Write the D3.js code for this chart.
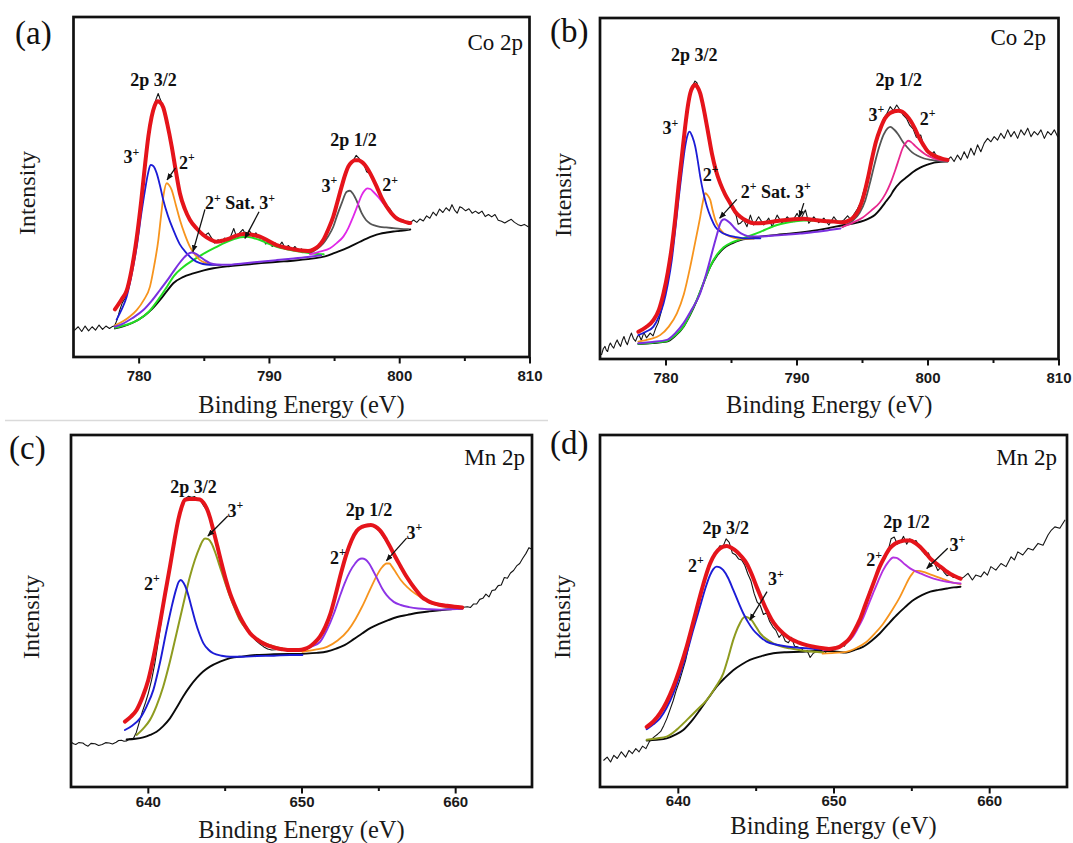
<!DOCTYPE html>
<html><head><meta charset="utf-8">
<script src="https://cdn.jsdelivr.net/npm/d3@7"></script>
<style>
html,body{margin:0;padding:0;background:#fff;}
svg{display:block;}
text{white-space:pre;}
</style></head>
<body>
<svg id="chart" width="1073" height="843"></svg>
<script>
// ---------------- tick values ----------------
const coTicks = [780, 790, 800, 810];
const coMinor = [785, 795, 805];
const mnTicks = [640, 650, 660];
const mnMinor = [645, 655];

// ---------------- panel (a) Co 2p ----------------
const rawA = [[775.09,7.9],[775.36,8.9],[775.63,7.5],[775.89,9.1],[776.16,7.7],[776.43,8.9],[776.69,7.9],[776.96,9.4],[777.23,8.1],[777.49,9.1],[777.76,8.4],[778.0,9.0],[778.16,9.2],
[778.35,11.0],[778.55,13.8],[778.75,16.0],[778.95,17.2],[779.15,19.5],[779.35,22.0],[779.55,26.5],[779.75,31.0],[779.95,37.5],[780.15,44.5],[780.35,51.5],[780.55,58.5],[780.75,64.5],[780.95,69.5],[781.15,73.5],[781.35,76.0],[781.5,77.5],[781.62,76.2],[781.8,74.5],[782.0,72.0],[782.2,68.5],[782.4,65.0],[782.6,61.0],[782.8,56.5],[783.0,51.5],[783.2,48.0],[783.4,45.5],[783.6,43.0],[783.85,41.0],[784.1,39.5],[784.35,38.0],[784.6,37.2],[784.85,36.3],[785.1,35.8],[785.35,36.5],[785.6,35.0],[785.85,33.5],[786.1,34.5],[786.35,33.8],[786.6,35.0],[786.85,34.2],[787.1,35.8],[787.3,37.8],[787.5,35.5],[787.75,36.5],[788.0,37.5],[788.25,35.8],[788.5,37.2],[788.75,35.5],[789.0,36.5],[789.25,35.0],[789.5,35.2],[789.75,33.2],[790.0,34.0],[790.25,32.5],[790.5,33.5],[790.75,32.5],[791.0,33.8],[791.25,32.0],[791.5,32.8],[791.75,31.5],[792.0,32.5],[792.25,31.2],[792.5,31.8],[792.75,30.8],[793.0,31.5],[793.25,31.0],[793.5,32.0],[793.75,32.5],[794.0,33.5],[794.25,35.0],[794.5,37.0],[794.75,39.5],[795.0,42.5],[795.25,45.8],[795.5,49.5],[795.75,52.5],[796.0,55.5],[796.25,57.0],[796.5,58.0],[796.7,59.3],[796.9,58.5],[797.1,57.2],[797.3,56.5],[797.5,54.5],[797.7,54.0],[797.9,52.8],[798.1,51.5],[798.3,49.8],[798.55,47.5],[798.8,45.8],[799.05,44.6],[799.3,43.5],[799.55,41.8],[799.8,41.2],[800.05,40.5],[800.3,40.3],[800.55,39.6],
[800.85,39.5],[801.1,40.3],[801.35,39.6],[801.6,40.6],[801.85,40.0],[802.1,41.5],[802.35,40.8],[802.6,42.6],[802.85,41.6],[803.1,43.5],[803.35,42.5],[803.6,43.9],[803.85,43.0],[804.05,44.8],[804.25,43.2],[804.45,42.3],[804.65,44.2],[804.85,43.8],[805.1,43.0],[805.35,43.6],[805.6,42.3],[805.85,42.9],[806.1,42.2],[806.35,42.9],[806.6,41.3],[806.85,41.9],[807.1,41.2],[807.35,41.9],[807.6,40.2],[807.85,39.9],[808.1,39.4],[808.35,40.0],[808.6,40.5],[808.85,39.6],[809.1,39.0],[809.35,38.6],[809.6,39.0],[809.9,38.3]];
const envA = [[778.18,14.0],[778.7,17.0],[779.08,19.5],[779.45,25.5],[779.85,35.0],[780.2,46.0],[780.49,56.5],[780.75,65.0],[781.0,70.7],[781.22,73.8],[781.43,75.2],[781.65,74.9],[781.89,73.4],[782.2,68.5],[782.54,61.9],[782.85,54.8],[783.17,48.1],[783.55,43.5],[783.94,40.3],[784.45,37.8],[784.96,35.9],[785.5,34.6],[785.99,33.9],[786.5,34.3],[787.01,34.9],[787.5,35.7],[788.03,36.2],[788.6,36.0],[789.31,35.4],[789.95,34.2],[790.59,32.9],[791.2,32.2],[791.87,31.7],[792.5,31.3],[793.0,31.2],[793.4,31.6],[793.8,32.6],[794.17,34.4],[794.55,37.5],[794.94,41.3],[795.25,45.5],[795.58,50.1],[795.85,53.6],[796.09,56.0],[796.35,57.3],[796.6,57.9],[796.86,57.9],[797.12,57.4],[797.38,56.4],[797.63,55.0],[797.95,52.7],[798.27,50.1],[798.65,46.8],[799.04,44.2],[799.4,42.3],[799.8,40.8],[800.25,40.0],[800.69,39.5],[800.85,39.4]];
const bgA = [[778.18,8.4],[778.8,9.0],[779.5,10.0],[780.36,11.9],[781.0,14.0],[781.64,16.8],[782.15,19.3],[782.66,21.7],[783.4,23.5],[784.19,24.6],[785.0,25.5],[785.73,26.1],[786.9,26.7],[788.03,27.1],[789.4,27.6],[790.7,28.0],[792.0,28.4],[793.0,28.8],[793.92,29.3],[794.5,29.8],[794.94,30.5],[795.45,31.2],[795.97,32.0],[796.5,33.0],[796.99,33.9],[797.5,34.8],[798.01,35.6],[798.5,36.2],[799.04,36.6],[799.55,36.9],[800.06,37.1],[800.69,37.4],[800.85,37.5]];
const co3A = [[778.31,11.0],[778.7,14.0],[779.08,17.7],[779.45,24.0],[779.85,32.4],[780.2,42.0],[780.49,49.1],[780.72,54.0],[780.92,56.5],[781.12,56.2],[781.39,54.0],[781.65,50.2],[781.89,46.2],[782.25,41.5],[782.66,37.4],[783.15,33.2],[783.69,30.5],[784.2,28.6],[784.71,27.6],[785.2,27.2],[785.73,27.1],[786.3,27.1]];
const co2A = [[778.2,9.3],[778.8,10.5],[779.35,12.0],[779.85,13.8],[780.4,16.8],[780.87,20.7],[781.2,27.0],[781.51,34.4],[781.72,41.5],[781.92,47.8],[782.15,51.1],[782.33,50.6],[782.54,49.1],[782.85,44.8],[783.17,40.3],[783.55,36.0],[783.94,32.4],[784.3,30.2],[784.71,28.5],[785.2,27.6],[785.73,27.1],[786.3,27.0]];
const sat2A = [[778.18,8.9],[778.8,9.8],[779.5,11.4],[780.36,13.8],[781.0,16.5],[781.64,19.7],[782.15,22.3],[782.66,25.1],[783.05,27.2],[783.43,29.0],[783.75,30.2],[784.07,30.7],[784.4,30.3],[784.71,29.5],[785.1,28.4],[785.48,27.6],[786.0,27.2],[786.76,27.1],[788.0,27.5],[789.31,28.0],[790.6,28.5],[791.9,29.0],[793.15,29.5],[794.0,29.9]];
const sat3A = [[778.18,8.6],[779.0,9.4],[780.0,11.0],[780.8,13.4],[781.64,17.6],[782.2,20.8],[782.7,23.8],[783.4,26.4],[784.19,28.5],[785.1,30.6],[785.99,32.4],[786.6,33.6],[787.27,34.6],[787.8,35.2],[788.29,35.4],[788.8,35.0],[789.31,34.4],[789.9,33.4],[790.59,32.4],[791.2,31.8],[791.87,31.3],[792.5,30.9],[793.15,30.5],[793.7,30.3],[794.2,30.2]];
const co3bA = [[793.15,30.6],[793.7,31.8],[794.17,33.4],[794.55,35.5],[794.94,38.3],[795.25,41.8],[795.58,45.2],[795.97,48.6],[796.22,48.9],[796.45,48.0],[796.75,45.8],[797.12,42.3],[797.45,40.3],[797.76,39.3],[798.1,38.7],[798.52,38.3],[799.0,38.1],[799.54,37.9],[800.1,37.7],[800.69,37.6]];
const co2bA = [[793.15,30.2],[793.9,31.0],[794.69,32.0],[795.2,33.5],[795.71,35.4],[796.1,38.0],[796.47,41.3],[796.8,44.5],[797.12,47.6],[797.35,49.0],[797.55,49.6],[797.78,49.4],[798.01,48.6],[798.4,47.0],[798.78,45.2],[799.15,43.5],[799.54,41.8],[799.9,40.6],[800.31,39.8],[800.69,39.3]];

// ---------------- panel (b) Co 2p ----------------
const rawB = [[775.12,1.3],[775.25,3.0],[775.38,3.7],[775.48,2.6],[775.58,2.2],[775.69,3.9],[775.79,4.7],[775.92,3.8],[776.05,3.2],[776.18,4.6],[776.31,5.6],[776.44,4.5],[776.57,3.7],[776.7,5.4],[776.83,6.6],[776.96,5.1],[777.09,4.2],[777.25,6.2],[777.40,7.6],[777.55,6.0],[777.71,5.2],[777.85,6.5],[777.97,7.1],
[778.15,5.5],[778.35,7.8],[778.55,6.2],[778.83,7.6],[779.05,6.8],[779.25,9.0],[779.44,10.6],[779.65,13.5],[779.85,17.0],[780.05,20.5],[780.25,25.0],[780.45,30.0],[780.65,36.5],[780.85,44.0],[781.05,52.0],[781.25,59.5],[781.45,66.0],[781.65,72.5],[781.85,77.0],[782.05,80.0],[782.25,81.5],[782.4,81.0],[782.6,78.5],[782.8,75.5],[783.0,71.5],[783.2,67.5],[783.4,63.5],[783.6,59.5],[783.8,56.0],[784.0,53.5],[784.2,51.0],[784.4,49.5],[784.6,47.5],[784.8,46.5],[785.0,44.5],[785.2,43.5],[785.4,42.0],[785.55,39.5],[785.71,39.8],[785.96,40.8],[786.22,38.8],[786.48,42.2],[786.73,39.3],[787.11,41.7],[787.5,39.3],[787.88,41.3],[788.14,38.8],[788.52,42.2],[788.9,39.8],[789.29,41.7],[789.67,40.3],[790.05,42.7],[790.3,40.8],[790.68,43.7],[790.94,39.8],[791.32,41.7],[791.7,40.0],[792.09,41.3],[792.47,39.3],[792.85,41.7],[793.23,39.8],[793.62,40.8],[793.9,42.0],[794.15,40.8],[794.4,42.5],[794.65,44.0],[794.9,46.0],[795.15,49.5],[795.4,52.5],[795.65,57.5],[795.9,60.5],[796.15,65.0],[796.4,68.0],[796.65,70.5],[796.9,72.0],[797.15,74.0],[797.4,72.8],[797.65,74.5],[797.9,73.0],[798.15,71.5],[798.4,70.5],[798.65,68.5],[798.9,67.5],[799.15,65.0],[799.48,65.7],[799.75,62.0],[800.0,61.5],[800.25,59.8],[800.5,60.8],[800.75,59.0],[801.0,58.8],[801.25,58.0],
[801.53,58.4],[801.78,59.3],[802.03,57.9],[802.29,59.8],[802.54,58.4],[802.80,60.8],[803.05,58.9],[803.31,61.8],[803.56,59.8],[803.82,62.8],[804.07,60.8],[804.33,63.3],[804.59,64.7],[804.84,63.7],[805.09,65.2],[805.35,64.2],[805.60,66.2],[805.86,64.7],[806.12,67.2],[806.37,65.2],[806.62,66.7],[806.88,64.7],[807.13,67.2],[807.39,65.7],[807.65,67.7],[807.90,65.2],[808.15,66.7],[808.41,65.7],[808.66,67.2],[808.92,64.7],[809.18,66.7],[809.43,65.7],[809.68,67.2],[809.94,65.2]];
const envB = [[777.93,8.0],[778.5,9.3],[779.08,11.4],[779.5,14.5],[779.85,19.3],[780.18,25.5],[780.48,32.9],[780.75,41.5],[780.99,50.5],[781.25,59.5],[781.5,68.1],[781.7,74.0],[781.89,77.9],[782.08,79.8],[782.27,80.4],[782.46,79.6],[782.65,77.9],[782.84,74.8],[783.03,71.1],[783.28,65.8],[783.54,60.3],[783.85,55.3],[784.18,51.5],[784.55,48.3],[784.95,45.6],[785.32,43.2],[785.71,41.7],[786.2,40.5],[786.73,39.8],[787.5,39.9],[788.26,40.3],[789.0,40.7],[789.79,41.0],[790.55,41.1],[791.32,40.8],[792.1,40.5],[792.85,40.3],[793.3,40.1],[793.62,40.1],[794.0,40.6],[794.38,41.7],[794.78,44.0],[795.1,47.5],[795.45,53.0],[795.75,58.5],[796.05,63.5],[796.4,67.5],[796.75,70.5],[797.1,72.0],[797.44,72.6],[797.76,72.8],[798.08,72.5],[798.4,71.4],[798.72,69.8],[799.05,67.5],[799.35,65.0],[799.68,62.8],[799.99,61.0],[800.38,59.9],[800.76,59.2],[801.15,58.7],[801.53,58.4]];
const bgB = [[777.93,4.4],[779.0,4.7],[780.1,5.1],[780.75,6.8],[781.38,9.5],[781.9,13.1],[782.4,17.3],[782.9,22.2],[783.42,27.1],[783.93,30.3],[784.44,32.5],[785.08,33.9],[785.71,34.9],[786.5,35.4],[787.24,35.9],[788.5,36.4],[789.79,36.9],[791.05,37.5],[792.34,38.3],[793.62,39.3],[794.55,39.9],[795.58,41.3],[796.0,42.3],[796.36,43.8],[796.75,45.8],[797.14,47.7],[797.44,49.6],[797.92,51.8],[798.47,53.5],[798.95,55.0],[799.48,56.2],[800.0,57.0],[800.5,57.6],[801.0,57.8],[801.56,58.0]];
const co3B = [[777.93,7.0],[778.5,8.0],[779.08,9.5],[779.5,12.5],[779.85,16.3],[780.18,22.0],[780.48,29.0],[780.75,38.0],[780.99,46.6],[781.25,55.0],[781.5,62.3],[781.67,65.5],[781.83,66.7],[782.05,65.2],[782.27,62.3],[782.46,58.2],[782.65,53.5],[782.9,48.6],[783.16,44.7],[783.48,41.3],[783.8,38.8],[784.25,37.2],[784.69,36.4],[785.3,35.8],[785.97,35.4],[787.24,35.4]];
const co2B = [[777.93,5.1],[778.8,5.8],[779.59,7.0],[780.25,9.5],[780.87,13.4],[781.4,19.0],[781.89,27.1],[782.28,34.5],[782.65,41.7],[782.85,46.0],[783.03,48.6],[783.22,48.0],[783.42,46.6],[783.6,43.6],[783.8,40.8],[784.1,38.4],[784.44,36.9],[784.95,35.9],[785.46,35.4],[786.73,35.2]];
const sat2B = [[777.93,4.6],[779.0,5.0],[780.1,5.6],[780.75,7.6],[781.38,10.5],[782.0,14.5],[782.65,19.3],[783.15,25.5],[783.67,32.9],[783.95,36.8],[784.18,39.8],[784.35,40.8],[784.49,41.0],[784.7,40.6],[784.95,39.8],[785.25,38.5],[785.58,37.3],[786.0,36.4],[786.48,35.9],[787.7,36.0],[789.03,36.4],[790.3,36.8],[791.58,37.3],[792.5,37.8],[793.36,38.3]];
const sat3B = [[777.93,4.5],[779.0,4.8],[780.1,5.3],[780.75,7.0],[781.38,9.6],[781.9,13.3],[782.4,17.4],[782.9,22.3],[783.42,27.2],[783.93,30.6],[784.44,32.8],[785.08,34.2],[785.71,35.1],[786.5,36.2],[787.24,37.3],[787.9,38.4],[788.52,39.3],[789.15,39.9],[789.79,40.3],[790.55,40.6],[791.32,40.6],[792.1,40.5],[792.85,40.4],[793.62,40.1]];
const co3bB = [[793.51,38.7],[794.2,40.3],[794.81,42.8],[795.25,46.5],[795.6,51.5],[795.95,57.0],[796.3,62.0],[796.65,65.8],[796.95,67.6],[797.17,68.1],[797.45,67.3],[797.74,66.0],[798.1,63.8],[798.45,62.1],[798.83,60.6],[799.25,59.6],[799.74,58.8],[800.25,58.4],[800.78,58.1],[801.53,57.9]];
const co2bB = [[793.51,38.7],[794.3,40.0],[795.06,41.5],[795.7,43.5],[796.36,45.9],[796.8,48.5],[797.2,51.8],[797.55,55.5],[797.85,59.0],[798.1,61.8],[798.35,63.4],[798.52,64.0],[798.75,63.6],[799.05,62.5],[799.4,61.3],[799.85,60.0],[800.4,59.0],[800.9,58.4],[801.53,58.1]];

// ---------------- panel (c) Mn 2p ----------------
const rawC = [[635.02,12.7],[635.17,12.3],[635.31,12.1],[635.5,12.6],[635.77,12.5],[635.95,11.9],[636.11,11.6],[636.3,12.4],[636.57,12.3],[636.8,11.8],[637.03,12.1],[637.25,12.6],[637.49,12.5],[637.7,12.2],[637.94,12.7],[638.1,13.2],[638.29,13.3],[638.45,13.0],[638.63,13.1],[638.8,13.6],[638.97,13.5],
[639.06,13.8],[639.25,15.5],[639.45,18.5],[639.65,21.5],[639.85,24.0],[640.03,26.6],[640.25,30.5],[640.45,35.0],[640.65,40.5],[640.85,46.5],[641.05,52.0],[641.25,57.5],[641.45,63.0],[641.65,68.5],[641.85,73.5],[642.05,78.0],[642.25,80.5],[642.45,82.0],[642.65,82.6],[642.85,82.3],[643.05,82.5],[643.25,81.8],[643.45,81.2],[643.65,79.8],[643.85,78.5],[644.05,76.0],[644.25,72.5],[644.45,69.5],[644.65,66.0],[644.85,62.5],[645.05,59.5],[645.25,56.0],[645.45,53.5],[645.65,51.0],[645.85,49.0],[646.05,47.5],[646.25,46.2],[646.43,45.5],[646.65,43.8],[646.85,42.5],[647.05,41.5],[647.3,40.6],[647.55,39.8],[647.8,39.2],[648.06,38.9],[648.3,39.0],[648.55,39.3],[648.8,38.9],[649.05,38.7],[649.3,38.9],[649.55,38.6],[649.8,38.8],[650.05,38.5],[650.3,39.0],[650.55,39.8],[650.8,40.8],[651.05,42.0],[651.3,43.8],[651.55,45.8],[651.8,48.5],[652.05,52.5],[652.3,56.5],[652.55,60.5],[652.8,64.0],[653.05,67.0],[653.3,70.0],[653.55,72.2],[653.8,73.5],[654.05,74.2],[654.3,74.6],[654.55,74.5],[654.8,73.8],[655.05,72.8],[655.3,71.2],[655.55,69.5],[655.8,68.0],[656.05,66.0],[656.3,64.0],[656.55,62.0],[656.8,60.2],[657.05,58.5],[657.3,57.2],[657.6,55.0],[657.85,54.2],[658.1,53.2],[658.4,52.5],[658.8,52.0],[659.2,51.5],[659.6,51.2],[660.0,51.0],[660.4,51.0],
[660.8,51.2],[661.0,51.0],[661.2,52.0],[661.4,52.0],[661.6,53.3],[661.8,53.6],[662.0,54.8],[662.2,54.0],[662.4,55.8],[662.6,56.0],[662.8,57.2],[663.0,57.4],[663.2,59.5],[663.4,59.3],[663.6,60.8],[663.8,61.5],[664.0,62.8],[664.2,63.5],[664.4,65.0],[664.6,66.3],[664.8,68.0],[665.0,67.5]];
const envC = [[638.51,18.6],[638.9,20.0],[639.27,21.9],[639.65,25.5],[640.03,30.4],[640.4,37.5],[640.79,46.5],[641.12,54.8],[641.44,62.6],[641.72,69.8],[641.98,75.9],[642.2,79.5],[642.42,81.6],[642.7,81.8],[643.1,81.8],[643.39,81.7],[643.62,80.8],[643.83,79.2],[644.05,76.5],[644.26,73.0],[644.53,68.3],[644.8,63.5],[645.07,59.0],[645.35,55.0],[645.67,51.5],[645.99,48.4],[646.32,45.8],[646.65,43.7],[647.08,42.0],[647.51,40.8],[647.95,40.0],[648.38,39.4],[648.8,39.1],[649.25,38.9],[649.83,38.9],[650.2,39.2],[650.51,39.8],[650.85,41.0],[651.2,42.7],[651.55,45.5],[651.89,49.3],[652.23,54.8],[652.57,60.7],[652.9,65.8],[653.26,70.1],[653.6,72.8],[653.94,73.9],[654.25,74.3],[654.51,74.4],[654.8,74.0],[655.09,73.0],[655.43,70.9],[655.77,68.2],[656.1,65.4],[656.46,62.6],[656.8,60.0],[657.14,57.8],[657.5,55.7],[657.83,54.0],[658.17,53.0],[658.51,52.3],[658.97,51.8],[659.43,51.5],[659.95,51.2],[660.46,51.0]];
const bgC = [[638.62,13.5],[639.2,13.7],[639.7,14.1],[640.15,14.8],[640.57,15.7],[641.0,17.3],[641.44,19.5],[641.87,22.5],[642.3,25.7],[642.73,28.5],[643.17,30.9],[643.6,32.8],[644.04,34.2],[644.7,35.6],[645.35,36.6],[646.2,37.1],[647.08,37.5],[648.2,37.7],[649.25,37.8],[650.29,37.9],[651.0,38.1],[651.66,38.5],[652.25,39.3],[652.8,40.3],[653.4,42.0],[653.94,43.6],[654.5,45.2],[655.09,46.4],[655.65,47.4],[656.23,48.3],[656.9,48.9],[657.6,49.5],[658.3,49.9],[658.97,50.2],[659.7,50.5],[660.46,50.7]];
const mn2C = [[638.51,16.2],[639.0,17.5],[639.49,19.5],[639.93,23.0],[640.36,27.6],[640.8,35.5],[641.22,44.6],[641.53,50.8],[641.83,56.0],[642.0,58.2],[642.14,58.8],[642.32,58.0],[642.53,56.0],[642.8,51.8],[643.07,47.4],[643.35,43.6],[643.62,40.8],[643.95,39.0],[644.26,38.0],[644.8,37.3],[645.35,37.0],[646.2,37.0],[647.08,37.2],[648.2,37.3],[649.25,37.5],[650.06,37.5]];
const mn3C = [[639.27,14.8],[639.7,16.6],[640.13,19.0],[640.56,23.0],[641.0,28.5],[641.43,35.5],[641.87,43.7],[642.3,51.8],[642.74,59.8],[643.06,64.5],[643.39,68.3],[643.55,69.8],[643.72,70.6],[643.93,70.4],[644.15,69.2],[644.42,66.2],[644.69,62.6],[645.02,58.2],[645.35,54.1],[645.67,50.6],[645.99,47.4],[646.42,44.8],[646.86,42.7],[647.4,41.3],[647.95,40.3],[648.6,39.5],[649.25,38.9],[650.06,38.7]];
const mn2bC = [[650.06,38.9],[650.6,39.8],[651.2,41.2],[651.65,44.6],[652.11,49.3],[652.45,53.6],[652.8,57.8],[653.15,61.2],[653.49,63.5],[653.72,64.6],[653.94,64.9],[654.17,64.6],[654.4,63.5],[654.68,61.3],[654.97,58.8],[655.25,56.4],[655.54,54.5],[656.0,52.6],[656.46,51.7],[657.0,51.1],[657.6,50.7],[658.3,50.5],[658.97,50.4],[659.7,50.5],[660.46,50.6]];
const mn3bC = [[650.06,38.4],[650.9,39.0],[651.66,39.8],[652.35,41.6],[653.03,44.5],[653.5,47.6],[653.94,51.2],[654.4,55.5],[654.86,59.7],[655.2,62.2],[655.54,63.5],[655.72,63.5],[655.89,62.6],[656.16,60.8],[656.46,58.8],[656.9,56.7],[657.37,55.0],[657.95,53.4],[658.51,52.1],[659.1,51.4],[659.66,51.0],[660.46,50.7]];

// ---------------- panel (d) Mn 2p ----------------
const rawD = [[635.24,7.6],[635.46,8.5],[635.68,7.1],[635.89,9.0],[636.11,8.1],[636.37,10.0],[636.65,8.5],[636.86,10.4],[637.08,9.5],[637.30,10.9],[637.51,10.0],[637.73,11.6],[637.95,10.9],[638.16,12.8],
[638.3,13.5],[638.5,14.3],[638.7,15.0],[638.9,15.8],[639.1,17.5],[639.3,19.5],[639.5,22.0],[639.7,24.5],[639.9,27.5],[640.1,30.0],[640.3,33.0],[640.5,36.0],[640.7,40.0],[640.9,44.0],[641.1,48.5],[641.3,52.5],[641.5,55.5],[641.7,58.5],[641.9,61.5],[642.1,64.0],[642.3,66.0],[642.5,67.0],[642.7,68.5],[642.9,68.3],[643.1,70.5],[643.3,69.5],[643.5,66.5],[643.7,66.0],[643.9,64.8],[644.1,64.5],[644.3,63.0],[644.5,60.5],[644.7,58.5],[644.9,55.0],[645.1,52.5],[645.3,51.5],[645.5,49.0],[645.7,49.5],[645.9,47.0],[646.1,45.5],[646.3,44.5],[646.5,42.5],[646.7,43.5],[646.9,41.5],[647.1,41.0],[647.3,42.5],[647.5,40.0],[647.7,39.8],[647.9,39.5],[648.1,38.5],[648.3,38.8],[648.5,36.8],[648.7,38.0],[648.9,38.5],[649.1,38.4],[649.3,39.0],[649.5,38.2],[649.7,39.5],[649.9,38.5],[650.1,39.8],[650.3,39.5],[650.5,40.6],[650.7,40.0],[650.9,41.5],[651.1,42.5],[651.3,43.5],[651.5,45.0],[651.7,46.5],[651.9,49.0],[652.1,51.5],[652.3,55.5],[652.5,57.0],[652.7,59.5],[652.9,62.0],[653.1,64.0],[653.3,66.0],[653.5,67.0],[653.7,70.5],[653.9,71.0],[654.1,69.0],[654.3,69.5],[654.5,71.2],[654.7,69.0],[654.9,70.5],[655.1,69.5],[655.3,70.0],[655.5,68.5],[655.7,67.0],[655.9,66.0],[656.1,66.5],[656.3,64.0],[656.5,63.5],[656.7,61.5],[656.9,62.5],[657.1,61.0],[657.3,60.0],[657.5,60.5],[657.7,59.5],[657.9,59.8],[658.16,59.0],
[658.38,59.7],[658.64,60.7],[658.92,58.8],[659.14,60.2],[659.46,59.7],[659.68,61.1],[659.89,60.2],[660.11,62.6],[660.43,61.6],[660.76,63.5],[661.08,62.6],[661.41,65.4],[661.62,64.5],[661.84,66.8],[662.16,65.9],[662.49,67.8],[662.81,67.3],[663.14,69.2],[663.46,68.7],[663.78,71.6],[664.0,73.0],[664.22,73.9],[664.54,73.5],[664.86,75.8]];
const envD = [[638.0,17.1],[638.43,18.6],[638.85,20.9],[639.28,24.2],[639.71,28.5],[640.14,33.8],[640.57,39.9],[641.0,47.0],[641.42,54.1],[641.75,59.3],[642.07,63.5],[642.4,66.3],[642.71,67.8],[642.92,68.3],[643.14,68.5],[643.46,67.9],[643.78,66.9],[644.1,65.4],[644.42,63.5],[644.74,60.5],[645.06,56.9],[645.38,53.5],[645.7,50.3],[646.02,47.6],[646.35,45.5],[646.78,43.6],[647.2,42.2],[647.73,41.1],[648.27,40.3],[648.8,39.8],[649.34,39.4],[649.7,39.2],[650.05,39.4],[650.38,39.8],[650.7,40.8],[651.03,42.2],[651.35,44.5],[651.68,47.4],[652.0,51.2],[652.32,55.0],[652.65,58.9],[652.97,62.6],[653.3,65.5],[653.62,67.8],[653.95,69.1],[654.27,69.7],[654.6,70.0],[654.92,70.0],[655.25,69.3],[655.57,68.2],[655.9,66.6],[656.22,64.9],[656.54,63.7],[656.86,62.6],[657.19,61.5],[657.51,60.5],[657.84,59.8],[658.16,59.2]];
const bgD = [[638.0,13.2],[638.64,13.4],[639.28,13.8],[639.82,14.8],[640.35,16.2],[640.88,18.7],[641.42,21.9],[641.95,25.2],[642.49,28.5],[643.02,31.0],[643.56,33.2],[644.1,34.8],[644.63,36.1],[645.38,37.2],[646.13,38.0],[646.99,38.3],[647.85,38.4],[648.6,38.6],[649.34,38.7],[650.1,38.5],[650.81,38.2],[651.35,38.9],[651.89,39.8],[652.43,41.5],[652.97,43.6],[653.5,46.2],[654.05,48.8],[654.6,51.1],[655.14,53.1],[655.68,54.5],[656.22,55.5],[656.76,56.0],[657.3,56.4],[657.73,56.7],[658.16,56.9]];
const mn2D = [[638.0,16.4],[638.43,17.8],[638.85,19.5],[639.28,22.5],[639.71,26.6],[640.14,32.0],[640.57,38.0],[641.0,44.8],[641.42,51.2],[641.75,56.2],[642.07,60.2],[642.28,61.9],[642.49,62.6],[642.7,62.4],[642.92,61.6],[643.24,59.3],[643.56,56.0],[643.88,52.6],[644.21,49.3],[644.53,46.7],[644.85,44.6],[645.28,42.7],[645.7,41.3],[646.35,40.4],[646.99,39.9],[647.63,39.6],[648.27,39.4],[648.8,39.2],[649.34,39.1]];
const mn3D = [[638.0,13.4],[638.64,13.8],[639.28,14.3],[639.93,16.3],[640.57,19.0],[641.21,21.8],[641.85,24.7],[642.4,28.2],[642.92,32.3],[643.24,36.8],[643.56,41.8],[643.78,44.5],[643.99,46.5],[644.15,47.8],[644.31,48.4],[644.52,48.1],[644.74,47.4],[645.01,45.6],[645.28,43.7],[645.7,42.0],[646.13,40.8],[646.67,39.9],[647.2,39.4],[647.95,38.8],[648.7,38.4],[649.34,38.2]];
const mn2bD = [[649.34,38.9],[649.85,39.2],[650.38,39.6],[650.8,40.8],[651.24,42.7],[651.55,45.0],[651.89,47.9],[652.22,51.5],[652.54,55.0],[652.87,58.5],[653.19,61.6],[653.5,63.8],[653.84,65.2],[654.05,65.1],[654.27,64.5],[654.6,63.2],[654.92,62.1],[655.25,61.3],[655.57,60.7],[656.0,59.9],[656.43,59.2],[656.86,58.7],[657.3,58.3],[657.73,58.0],[658.16,57.8]];
const mn3bD = [[649.3,37.9],[650.05,38.1],[650.81,38.4],[651.46,39.5],[652.11,41.2],[652.65,43.6],[653.19,46.4],[653.73,50.0],[654.27,54.0],[654.6,57.0],[654.92,59.7],[655.08,60.7],[655.24,61.4],[655.5,61.4],[655.78,61.1],[656.2,60.4],[656.65,59.7],[657.08,59.0],[657.51,58.3],[657.84,57.9],[658.16,57.6]];

// ---------------- annotation texts (data coords: left edge, vertical centre) ----------------
const labelsA = [["2p 3/2",779.36,81.5],["3^+",778.83,58.8],["2^+",783.10,57.1],["2^+ Sat. 3^+",785.09,45.3],["2p 1/2",794.70,64.0],["3^+",794.03,50.4],["2^+",798.70,50.6]];
const arrowsA = [[782.83,55.6,782.18,52.1],[785.09,43.4,784.17,31.0],[789.24,42.7,788.16,34.9]];
const labelsB = [["2p 3/2",780.42,89.1],["3^+",779.77,67.7],["2^+",782.84,54.0],["2^+ Sat. 3^+",785.75,49.1],["2p 1/2",796.03,81.8],["3^+",795.5,71.6],["2^+",799.41,70.4]];
const arrowsB = [[785.44,46.8,784.14,41.3],[790.56,45.7,790.23,41.7]];
const labelsC = [["2p 3/2",641.46,85.3],["3^+",645.19,78.5],["2^+",639.75,57.7],["2p 1/2",652.88,78.7],["3^+",656.84,72.2],["2^+",651.86,65.1]];
const arrowsC = [[645.2,77.0,643.91,71.3],[656.84,70.7,655.53,64.3]];
const labelsD = [["2p 3/2",641.58,73.7],["2^+",640.65,62.9],["3^+",645.8,59.1],["2p 1/2",653.2,75.3],["2^+",652.1,64.5],["3^+",657.45,68.8]];
const arrowsD = [[645.73,55.5,644.63,47.4],[657.34,67.8,655.99,62.1]];

// ---------------- drawing ----------------
const svg = d3.select('#chart');
svg.append('rect').attr('width',1073).attr('height',843).attr('fill','#fff');
const defs = svg.append('defs');
defs.append('marker').attr('id','ah').attr('viewBox','0 0 10 10').attr('refX',9).attr('refY',5)
  .attr('markerWidth',7).attr('markerHeight',7).attr('markerUnits','userSpaceOnUse').attr('orient','auto')
  .append('path').attr('d','M0,1 L10,5 L0,9 z').attr('fill','#111');

// faint separator under panel (a)
svg.append('line').attr('x1',5).attr('x2',548).attr('y1',420.5).attr('y2',420.5)
  .attr('stroke','#dadada').attr('stroke-width',1.5);

const SERIF = "'Liberation Serif','Times New Roman',Times,serif";
const SANS = "'Liberation Sans',Arial,Helvetica,sans-serif";

function addLabel(g, px, py, str, size) {
  const t = g.append('text').attr('x', px).attr('y', py + size*0.34)
    .attr('font-family', SERIF).attr('font-weight','bold').attr('font-size', size).attr('fill','#111');
  const parts = str.split(/(\^.)/);
  let shift = 0;
  parts.forEach(p => {
    if (!p) return;
    if (p[0] === '^') {
      t.append('tspan').attr('dy', -size*0.42).attr('font-size', size*0.66).text(p.slice(1));
      shift = size*0.42;
    } else {
      t.append('tspan').attr('dy', shift).text(p);
      shift = 0;
    }
  });
}

function drawPanel(L, series, labels, arrows, id) {
  const x = d3.scaleLinear().domain(L.dom).range([L.x0, L.x1]);
  const y = d3.scaleLinear().domain([0, 100]).range([L.y1, L.y0]);
  const g = svg.append('g');
  defs.append('clipPath').attr('id','clip'+id).append('rect')
    .attr('x',L.x0).attr('y',L.y0).attr('width',L.x1-L.x0).attr('height',L.y1-L.y0);
  const gc = g.append('g').attr('clip-path','url(#clip'+id+')');
  series.forEach(s => {
    const line = d3.line().x(d => x(d[0])).y(d => y(d[1])).curve(s.raw ? d3.curveLinear : d3.curveMonotoneX);
    gc.append('path').attr('d', line(s.data)).attr('fill','none')
      .attr('stroke', s.color).attr('stroke-width', s.w)
      .attr('stroke-linejoin','round').attr('stroke-linecap','round');
  });
  // axes ticks
  const ax = g.append('g').attr('transform', `translate(0,${L.y1})`)
    .call(d3.axisBottom(x).tickValues(L.ticks).tickSize(6.5).tickSizeOuter(0).tickPadding(L.pad).tickFormat(d3.format('d')));
  ax.select('.domain').remove();
  ax.selectAll('line').attr('stroke','#111').attr('stroke-width',2);
  ax.selectAll('text').attr('font-family', SANS).attr('font-weight','bold').attr('font-size',15).attr('fill','#1a1a1a');
  const axm = g.append('g').attr('transform', `translate(0,${L.y1})`)
    .call(d3.axisBottom(x).tickValues(L.minor).tickSize(4).tickSizeOuter(0).tickFormat(''));
  axm.select('.domain').remove();
  axm.selectAll('line').attr('stroke','#111').attr('stroke-width',2);
  // frame
  g.append('rect').attr('x',L.x0).attr('y',L.y0).attr('width',L.x1-L.x0).attr('height',L.y1-L.y0)
    .attr('fill','none').attr('stroke','#111').attr('stroke-width',2.7);
  // annotations
  labels.forEach(l => addLabel(g, x(l[1]), y(l[2]), l[0], 18));
  arrows.forEach(a => g.append('line').attr('x1',x(a[0])).attr('y1',y(a[1])).attr('x2',x(a[2])).attr('y2',y(a[3]))
    .attr('stroke','#111').attr('stroke-width',1.3).attr('marker-end','url(#ah)'));
  // titles
  g.append('text').attr('x',(L.x0+L.x1)/2).attr('y',L.xTitleY).attr('text-anchor','middle')
    .attr('font-family',SERIF).attr('font-size',24.5).attr('fill','#1a1a1a').text('Binding Energy (eV)');
  g.append('text').attr('transform',`translate(${L.yTitleX},${L.yTitleY}) rotate(-90)`).attr('text-anchor','middle')
    .attr('dominant-baseline','central').attr('font-family',SERIF).attr('font-size',24).attr('fill','#1a1a1a').text('Intensity');
  g.append('text').attr('x',L.tagX).attr('y',L.tagY).attr('font-family',SERIF).attr('font-size',33).attr('fill','#111').text(L.tag);
  g.append('text').attr('x',L.elemX).attr('y',L.elemY).attr('text-anchor','end').attr('font-family',SERIF)
    .attr('font-size',23).attr('fill','#111').text(L.elem);
}

const C = {raw:'#141414', bg:'#0a0a0a', red:'#e5141b', blue:'#1c1cd6', orange:'#f7941d', purple:'#7a2fe0',
  green:'#22dd22', gray:'#555555', magentaA:'#e028e8', magentaB:'#e8288f', olive:'#8e9b1f', violetC:'#8d34e6', violetD:'#b431e0'};

drawPanel({x0:73.5,x1:529.5,y0:17,y1:357,dom:[775,810],ticks:coTicks,minor:coMinor,pad:6.5,xTitleY:413,yTitleX:27,yTitleY:193,tag:'(a)',tagX:15,tagY:44,elem:'Co 2p',elemX:523,elemY:50},
 [{data:rawA,color:C.raw,w:1.1,raw:true},{data:bgA,color:C.bg,w:1.9},{data:sat3A,color:C.green,w:2},{data:co2A,color:C.orange,w:1.8},
  {data:co3A,color:C.blue,w:1.8},{data:sat2A,color:C.purple,w:2},{data:co3bA,color:C.gray,w:1.8},{data:co2bA,color:C.magentaA,w:1.8},{data:envA,color:C.red,w:4}],
 labelsA, arrowsA, 'a');

drawPanel({x0:600,x1:1058.5,y0:18,y1:359,dom:[775,810],ticks:coTicks,minor:coMinor,pad:6.5,xTitleY:413,yTitleX:563,yTitleY:195,tag:'(b)',tagX:550,tagY:42,elem:'Co 2p',elemX:1046,elemY:45},
 [{data:rawB,color:C.raw,w:1.1,raw:true},{data:bgB,color:C.bg,w:1.9},{data:sat3B,color:C.green,w:2},{data:co2B,color:C.orange,w:1.8},
  {data:co3B,color:C.blue,w:1.8},{data:sat2B,color:C.purple,w:2},{data:co3bB,color:C.gray,w:1.8},{data:co2bB,color:C.magentaB,w:1.8},{data:envB,color:C.red,w:4}],
 labelsB, arrowsB, 'b');

drawPanel({x0:71,x1:532,y0:435,y1:787,dom:[635,665],ticks:mnTicks,minor:mnMinor,pad:3,xTitleY:838,yTitleX:31,yTitleY:617,tag:'(c)',tagX:9,tagY:459,elem:'Mn 2p',elemX:525,elemY:465},
 [{data:rawC,color:C.raw,w:1.1,raw:true},{data:bgC,color:C.bg,w:1.9},{data:mn3C,color:C.olive,w:2},{data:mn2C,color:C.blue,w:1.9},
  {data:mn3bC,color:C.orange,w:1.8},{data:mn2bC,color:C.violetC,w:1.9},{data:envC,color:C.red,w:4}],
 labelsC, arrowsC, 'c');

drawPanel({x0:600,x1:1067,y0:435,y1:787,dom:[635,665],ticks:mnTicks,minor:mnMinor,pad:1.5,xTitleY:834,yTitleX:562,yTitleY:617,tag:'(d)',tagX:550,tagY:454,elem:'Mn 2p',elemX:1057,elemY:465},
 [{data:rawD,color:C.raw,w:1.1,raw:true},{data:bgD,color:C.bg,w:1.9},{data:mn3D,color:C.olive,w:2},{data:mn2D,color:C.blue,w:1.9},
  {data:mn3bD,color:C.orange,w:1.8},{data:mn2bD,color:C.violetD,w:1.9},{data:envD,color:C.red,w:4}],
 labelsD, arrowsD, 'd');
</script>
</body></html>
